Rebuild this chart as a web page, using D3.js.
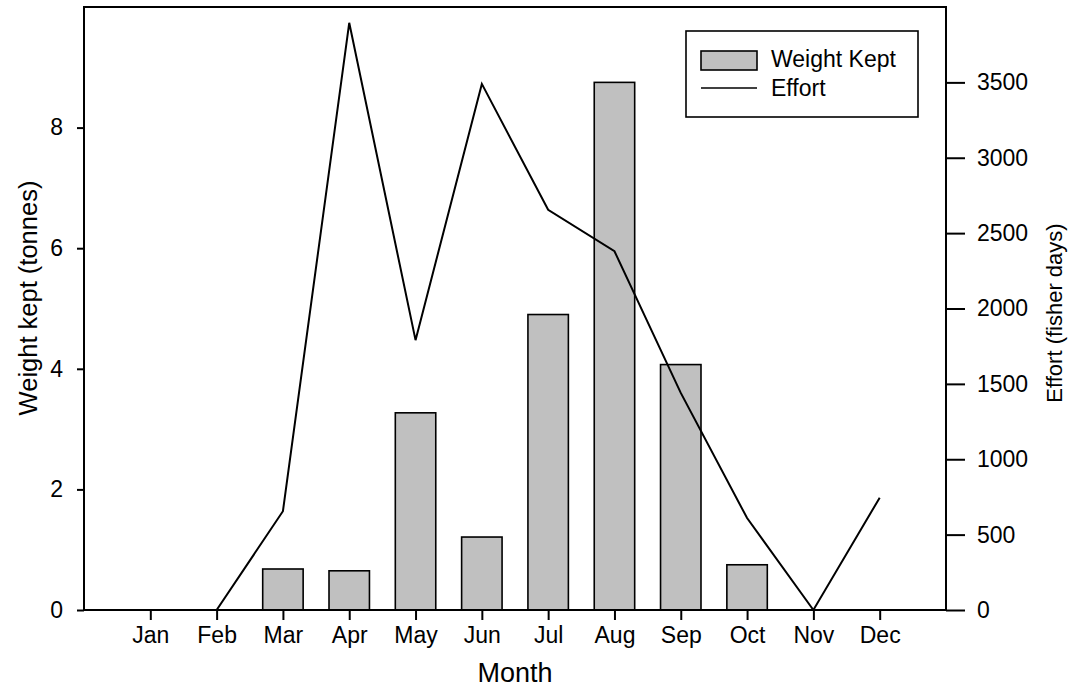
<!DOCTYPE html>
<html><head><meta charset="utf-8">
<script src="https://cdn.jsdelivr.net/npm/d3@7"></script>
<style>body{margin:0;background:#fff}svg{display:block;font-family:"Liberation Sans",Arial,sans-serif}</style>
</head><body><svg id="c" width="1070" height="688"></svg>
<script>
const months = ["Jan","Feb","Mar","Apr","May","Jun","Jul","Aug","Sep","Oct","Nov","Dec"];
const weightKept = [0,0,0.68,0.65,3.27,1.21,4.9,8.75,4.07,0.75,0,0];
const effort = [0,0,655,3895,1790,3490,2655,2380,1440,610,0,745];
const leftTicks = [0,2,4,6,8];
const rightTicks = [0,500,1000,1500,2000,2500,3000,3500];

const svg = d3.select("#c");
const L=84, R=946, T=7, B=610;
const x = d3.scaleLinear().domain([0,13]).range([L,R]);
const yL = d3.scaleLinear().domain([0,10]).range([B,T]);
const yR = d3.scaleLinear().domain([0,4000]).range([B,T]);
const bw = (x(1)-x(0))*0.61;
const data = months.map((m,i)=>({m, i:i+1, w:weightKept[i], e:effort[i]}));

// bars
svg.append("g").selectAll("rect").data(data.filter(d=>d.w>0)).join("rect")
  .attr("x",d=>x(d.i)-bw/2).attr("y",d=>yL(d.w)).attr("width",bw).attr("height",d=>yL(0)-yL(d.w))
  .attr("fill","#c0c0c0").attr("stroke","#000").attr("stroke-width",1.6);

// line
svg.append("path").datum(data)
  .attr("d",d3.line().x(d=>x(d.i)).y(d=>yR(d.e)))
  .attr("fill","none").attr("stroke","#000").attr("stroke-width",2);

// frame
svg.append("rect").attr("x",L).attr("y",T).attr("width",R-L).attr("height",B-T)
  .attr("fill","none").attr("stroke","#000").attr("stroke-width",2);

// axes
const ax = svg.append("g").attr("transform",`translate(0,${B})`)
  .call(d3.axisBottom(x).tickValues(d3.range(1,13)).tickFormat(i=>months[i-1]).tickSize(10).tickPadding(7));
const ay = svg.append("g").attr("transform",`translate(${L},0)`)
  .call(d3.axisLeft(yL).tickValues(leftTicks).tickFormat(d3.format("d")).tickSize(7).tickPadding(14));
const ar = svg.append("g").attr("transform",`translate(${R},0)`)
  .call(d3.axisRight(yR).tickValues(rightTicks).tickFormat(d3.format("d")).tickSize(19).tickPadding(12));
[ax,ay,ar].forEach(g=>{
  g.select(".domain").remove();
  g.selectAll(".tick line").attr("stroke","#000").attr("stroke-width",2);
  g.selectAll(".tick text").attr("fill","#000").style("font-size","23px").style("font-family","Liberation Sans, Arial, sans-serif");
});

// titles
svg.append("text").attr("x",(L+R)/2).attr("y",682).attr("text-anchor","middle")
  .style("font-size","27px").text("Month");
svg.append("text").attr("transform",`translate(37,${298}) rotate(-90)`).attr("text-anchor","middle")
  .style("font-size","25.5px").text("Weight kept (tonnes)");
svg.append("text").attr("transform",`translate(1062,${313}) rotate(-90)`).attr("text-anchor","middle")
  .style("font-size","22px").text("Effort (fisher days)");

// legend
const lg = svg.append("g");
lg.append("rect").attr("x",686).attr("y",31).attr("width",232).attr("height",86)
  .attr("fill","#fff").attr("stroke","#000").attr("stroke-width",1.6);
lg.append("rect").attr("x",701).attr("y",51).attr("width",56).attr("height",19)
  .attr("fill","#c0c0c0").attr("stroke","#000").attr("stroke-width",1.6);
lg.append("line").attr("x1",701).attr("x2",757).attr("y1",88).attr("y2",88).attr("stroke","#000").attr("stroke-width",1.6);
lg.append("text").attr("x",771).attr("y",67).style("font-size","23px").text("Weight Kept");
lg.append("text").attr("x",771).attr("y",96).style("font-size","23px").text("Effort");
</script></body></html>
